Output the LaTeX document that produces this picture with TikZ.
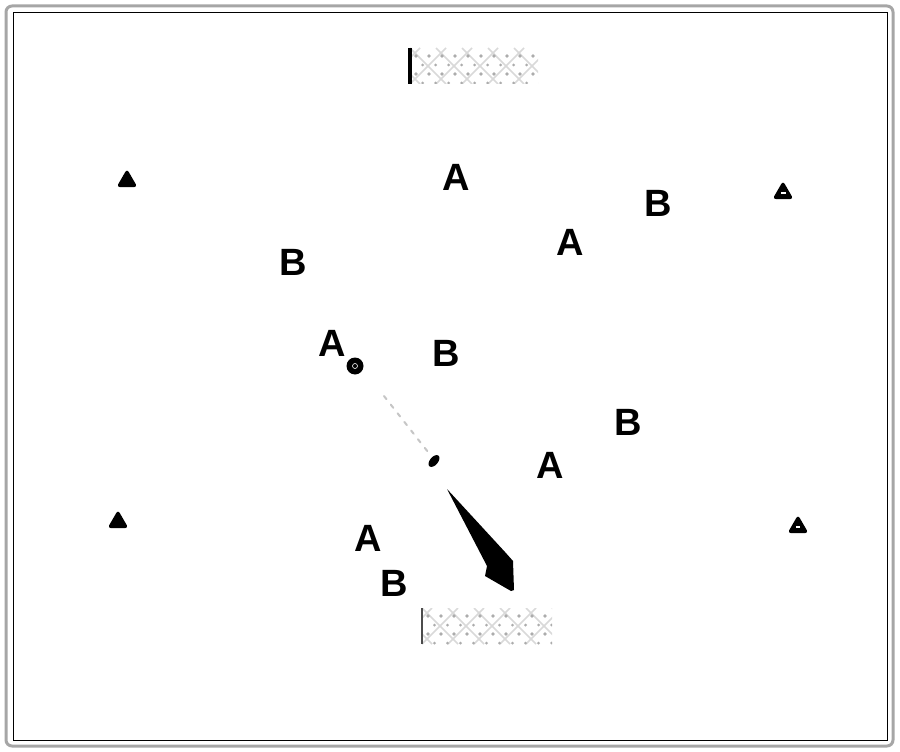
\documentclass[tikz,border=0pt]{standalone}
\usepackage{fontspec}
\setmainfont{Liberation Sans}
\usetikzlibrary{shapes.geometric,arrows.meta}
\begin{document}
\begin{tikzpicture}[x=1pt,y=-1pt,
  player/.style={inner sep=0pt,font=\fontsize{38}{38}\selectfont\bfseries},
  cone/.style={regular polygon,regular polygon sides=3,fill=black,draw=black,line width=1.5pt,rounded corners=2pt,minimum size=21pt,inner sep=0pt},
  hatchline/.style={gray!30,line width=1.6pt},
  hatchdot/.style={gray!65},
  trail/.style={gray!45,line width=2pt,dash pattern=on 4pt off 7pt,line cap=round}]
\useasboundingbox (0,0) rectangle (900,752);
\fill[white] (0,0) rectangle (900,752);
% frame
\draw[gray!70,line width=3pt,rounded corners=6pt] (6,6) rectangle (893,746);
\draw[black,line width=1pt] (13,13) rectangle (887,740);
% top goal
\node[coordinate] (goaltop) at (474,66) {};
\begin{scope}
\clip (410,48) rectangle (538,84);
\foreach \i in {-3,...,6}{
  \draw[hatchline] (410+\i*26,48) -- ++(36,36);
  \draw[hatchline] (410+\i*26,84) -- ++(36,-36);
}
\foreach \i in {0,...,10}{
  \foreach \j in {0,1}{
    \fill[hatchdot] (416+\i*13,56+\j*18) circle (1.8pt);
    \fill[hatchdot] (422.5+\i*13,65+\j*18) circle (1.5pt);
  }
}
\end{scope}
\draw[black,line width=3.5pt] (410,48) -- (410,84);
% bottom goal
\node[coordinate] (goalbot) at (487,626) {};
\begin{scope}
\clip (422,608) rectangle (552,644);
\foreach \i in {-3,...,6}{
  \draw[hatchline] (422+\i*26,608) -- ++(36,36);
  \draw[hatchline] (422+\i*26,644) -- ++(36,-36);
}
\foreach \i in {0,...,10}{
  \foreach \j in {0,1}{
    \fill[hatchdot] (428+\i*13,616+\j*18) circle (1.8pt);
    \fill[hatchdot] (434.5+\i*13,625+\j*18) circle (1.5pt);
  }
}
\end{scope}
\draw[black!70,line width=2.5pt] (422,608) -- (422,644);
% cones
\node[cone] (c1) at (127,181) {};
\node[cone] (c2) at (783,193) {};
\fill[white] (c2.center) ++(-2.5,-0.9) rectangle ++(5,1.8);
\node[cone] (c3) at (118,522) {};
\node[cone] (c4) at (798,527) {};
\fill[white] (c4.center) ++(-1.8,-1.4) rectangle ++(3.6,2.8);
% players A
\node[player] (a1) at (456,177) {A};
\node[player] (a2) at (570,242) {A};
\node[player] (a3) at (332,343) {A};
\node[player] (a4) at (550,465) {A};
\node[player] (a5) at (368,538) {A};
% players B
\node[player] (b1) at (658,203) {B};
\node[player] (b2) at (293,262) {B};
\node[player] (b3) at (446,353) {B};
\node[player] (b4) at (628,422) {B};
\node[player] (b5) at (394,583) {B};
% ball
\node[circle,fill=black,minimum size=17pt,inner sep=0pt] (ball) at (355,366) {};
\draw[white,line width=0.6pt] (ball.center) circle (2.5pt);
% pass trail
\coordinate (p0) at (384,396);
\coordinate (p1) at (428,452);
\draw[trail] (p0) -- (p1);
\fill[black,rotate around={50:(434,461)}] (434,461) ellipse (7pt and 4pt);
% run arrow
\coordinate (r0) at (447,489);
\coordinate (r1) at (511,591);
\fill[black] (r0) -- (505,552) -- (513,561) -- (514,590) -- (r1) -- (485,576) -- (487,566) -- cycle;
\end{tikzpicture}
\end{document}
